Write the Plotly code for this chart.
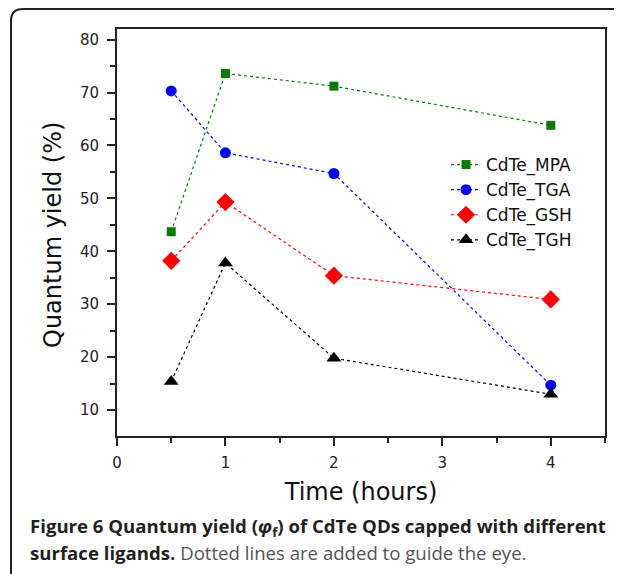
import plotly.graph_objects as go

time_h = [0.5, 1, 2, 4]
mpa = [43.7, 73.6, 71.2, 63.8]
tga = [70.3, 58.6, 54.7, 14.7]
gsh = [38.2, 49.3, 35.4, 30.9]
tgh = [15.4, 37.8, 19.8, 13.0]

series = [
    ("CdTe_MPA", mpa, "#0a7a0a", "square", 9),
    ("CdTe_TGA", tga, "#0000ff", "circle", 11),
    ("CdTe_GSH", gsh, "#ff0000", "diamond", 14),
    ("CdTe_TGH", tgh, "#000000", "triangle-up", 13),
]

fig = go.Figure()
for name, vals, col, sym, sz in series:
    fig.add_trace(go.Scatter(
        x=time_h, y=vals, name=name, mode="lines+markers",
        legendgroup=name,
        line=dict(color=col, width=1.2, dash="3px,3px"),
        marker=dict(symbol=sym, size=sz, color=col),
    ))

# page body has an 8px margin; work in screen coords and subtract it
OFF = 8
L, R, T, B = 117 - OFF, 605 - OFF, 29 - OFF, 436 - OFF
W, H = R - L, B - T
def px(x):
    return (x - OFF - L) / W
def py(y):
    return (B - (y - OFF)) / H

axis_common = dict(
    showline=True, linecolor="#222", linewidth=2, mirror=True,
    ticks="outside", ticklen=8, tickwidth=2, tickcolor="#222",
    showgrid=False, zeroline=False,
    tickfont=dict(family="DejaVu Sans", size=15, color="#222"),
)
fig.update_xaxes(range=[0, 4.5], dtick=1, tick0=0,
                 minor=dict(dtick=0.5, ticks="outside", ticklen=5, tickwidth=2, tickcolor="#222"),
                 ticklabelstandoff=4,
                 title=dict(text="Time (hours)", font=dict(family="DejaVu Sans", size=24, color="#111"), standoff=12),
                 **axis_common)
fig.update_yaxes(range=[5.1, 82], dtick=10, tick0=0,
                 minor=dict(dtick=5, ticks="outside", ticklen=5, tickwidth=2, tickcolor="#222"),
                 ticklabelstandoff=5,
                 **axis_common)

fig.add_annotation(xref="paper", yref="paper", x=px(53), y=py(235), xanchor="center", yanchor="middle",
                   textangle=-90, showarrow=False, text="Quantum yield (%)",
                   font=dict(family="DejaVu Sans", size=24, color="#111"))

r = 12
path = (f"M {px(11)} {py(620)} L {px(11)} {py(9 + r)} "
        f"Q {px(11)} {py(9)} {px(11 + r)} {py(9)} L {px(660)} {py(9)}")
fig.add_shape(type="path", xref="paper", yref="paper", path=path,
              line=dict(color="#222", width=2), layer="below")

fig.add_annotation(xref="paper", yref="paper", x=px(28), y=py(526.5), xanchor="left", yanchor="middle",
                   showarrow=False, align="left",
                   text="<b>Figure 6 Quantum yield (<i>φ</i><sub>f</sub>) of CdTe QDs capped with different</b>",
                   font=dict(family="Open Sans", size=18.6, color="#231f20"))
fig.add_annotation(xref="paper", yref="paper", x=px(28), y=py(552.5), xanchor="left", yanchor="middle",
                   showarrow=False, align="left",
                   text="<b>surface ligands.</b> <span style='color:#555'>Dotted lines are added to guide the eye.</span>",
                   font=dict(family="Open Sans", size=18.6, color="#231f20"))

fig.update_layout(
    width=622, height=574,
    margin=dict(l=L, r=622 - R, t=T, b=574 - B, pad=0),
    paper_bgcolor="white", plot_bgcolor="white",
    showlegend=True,
    legend=dict(x=px(446), y=py(147), xanchor="left", yanchor="top",
                bgcolor="rgba(0,0,0,0)", tracegroupgap=0,
                font=dict(family="DejaVu Sans", size=17, color="#111")),
)
fig.write_html("out.html")
